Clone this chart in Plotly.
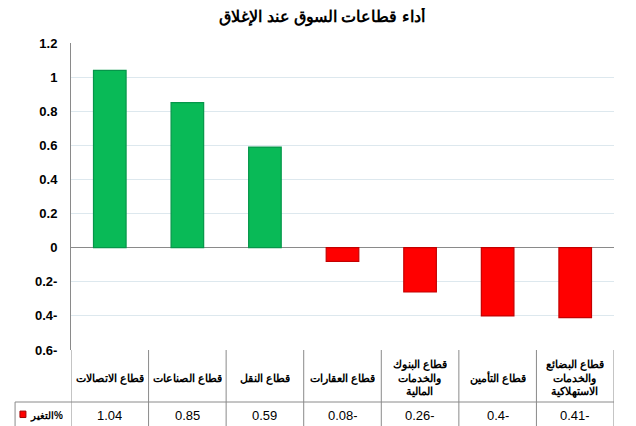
import plotly.graph_objects as go

# بيانات الرسم
sectors = [
    "قطاع الاتصالات",
    "قطاع الصناعات",
    "قطاع النقل",
    "قطاع العقارات",
    "قطاع البنوك<br>والخدمات<br>المالية",
    "قطاع التأمين",
    "قطاع البضائع<br>والخدمات<br>الاستهلاكية",
]
change = [1.04, 0.85, 0.59, -0.08, -0.26, -0.4, -0.41]
series_name = "التغير%"
tick_vals = [1.2, 1, 0.8, 0.6, 0.4, 0.2, 0, -0.2, -0.4, -0.6]
tick_text = ["1.2", "1", "0.8", "0.6", "0.4", "0.2", "0", "0.2-", "0.4-", "0.6-"]

FONT = "Arial, Liberation Sans, sans-serif"
xs = list(range(len(sectors)))

# الجدول أسفل المحور (بوحدات الورقة)
ROW1_BOT = -52 / 307
ROW2_BOT = -76 / 307


def fmt(v):
    return f"{abs(v):g}-" if v < 0 else f"{v:g}"


fill = ["#09BA57" if v >= 0 else "#FF0000" for v in change]
edge = ["#06964A" if v >= 0 else "#C40000" for v in change]

fig = go.Figure(go.Bar(
    x=xs, y=change, width=0.42,
    marker=dict(color=fill, line=dict(color=edge, width=1.2)),
    hoverinfo="skip",
))

# خطوط الجدول
line = dict(color="#8A8A8A", width=1)
shapes = []
for i in range(len(sectors) + 1):
    shapes.append(dict(type="line", xref="x", yref="paper",
                       x0=i - 0.5, x1=i - 0.5, y0=0, y1=ROW2_BOT, line=line))
shapes.append(dict(type="line", xref="paper", yref="paper",
                   x0=-0.103, x1=1, y0=ROW1_BOT, y1=ROW1_BOT, line=line))
shapes.append(dict(type="line", xref="paper", yref="paper",
                   x0=-0.103, x1=-0.103, y0=ROW1_BOT, y1=ROW2_BOT, line=line))
# مفتاح السلسلة
shapes.append(dict(type="rect", xref="paper", yref="paper",
                   x0=-0.094, x1=-0.083, y0=-0.199, y1=-0.220,
                   fillcolor="#FF0000", line=dict(color="#A00000", width=1)))

annotations = []
for x, s, v in zip(xs, sectors, change):
    annotations.append(dict(x=x, y=-0.003, xref="x", yref="paper", text=f"<b>{s}</b>",
                            yanchor="top", height=50, valign="middle",
                            showarrow=False, font=dict(size=10.5, color="#000"),
                            align="center"))
    annotations.append(dict(x=x, y=ROW1_BOT - 0.003, xref="x", yref="paper",
                            text=fmt(v), yanchor="top", height=21, valign="middle",
                            showarrow=False, font=dict(size=13, color="#000")))
annotations.append(dict(x=-0.079, y=ROW1_BOT - 0.003, xref="paper", yref="paper",
                        text=f"<b>\u200e{series_name}\u200e</b>", xanchor="left",
                        yanchor="top", height=21, valign="middle", showarrow=False,
                        font=dict(size=10, color="#000")))

fig.update_layout(
    width=628, height=418,
    margin=dict(l=63, r=22, t=35, b=76),
    paper_bgcolor="white", plot_bgcolor="white",
    font=dict(family=FONT, color="#000"),
    title=dict(text="<b>أداء قطاعات السوق عند الإغلاق</b>", x=0.5, xanchor="center",
               y=0.98, yanchor="middle", font=dict(size=16, color="#000")),
    showlegend=False,
    xaxis=dict(range=[-0.5, len(sectors) - 0.5], showticklabels=False,
               showgrid=False, zeroline=False, showline=False, fixedrange=True),
    yaxis=dict(range=[-0.6, 1.2], tickvals=tick_vals,
               ticktext=[f"<b>{t}</b>" for t in tick_text],
               tickfont=dict(size=13, family=FONT, color="#000"),
               showgrid=True, gridcolor="#DDE8EE", gridwidth=1,
               zeroline=True, zerolinecolor="#8A8A8A", zerolinewidth=1,
               showline=True, linecolor="#8A8A8A", linewidth=1,
               ticks="", ticklabelstandoff=10),
    shapes=shapes,
    annotations=annotations,
)

fig.write_html("out.html")
